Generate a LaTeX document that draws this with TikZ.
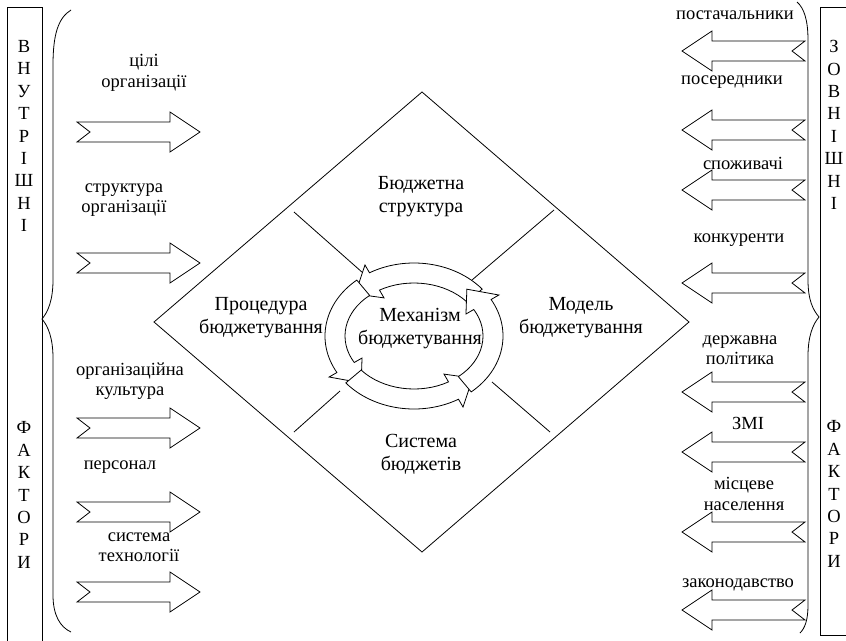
\documentclass[tikz,border=0pt]{standalone}
\usepackage{fontspec}
\setmainfont{Liberation Serif}
\begin{document}
\begin{tikzpicture}[x=1pt,y=-1pt,line width=0.8pt,
  lbl/.style={font=\fontsize{18.5}{20.5}\selectfont,align=center,inner sep=0pt},
  dlbl/.style={font=\fontsize{20}{23}\selectfont,align=center,inner sep=0pt},
  vlbl/.style={font=\fontsize{18.5}{22.4}\selectfont,align=center,inner sep=0pt},
  blk/.style={draw,fill=white,line join=miter}]
\useasboundingbox (0,0) rectangle (846,640);
% side boxes
\draw (7,643) -- (7,7) -- (42,7) -- (42,643);
\draw (849,7) -- (820,7) -- (820,635) -- (849,635);
\node[vlbl] (vin) at (24,136) {В\\Н\\У\\Т\\Р\\І\\Ш\\Н\\І};
\node[vlbl] (fin) at (24,495) {Ф\\А\\К\\Т\\О\\Р\\И};
\node[vlbl] (vout) at (834,125) {З\\О\\В\\Н\\І\\Ш\\Н\\І};
\node[vlbl] (fout) at (834,494) {Ф\\А\\К\\Т\\О\\Р\\И};
% braces
\draw (71,10) .. controls (58,18) and (53,35) .. (53,65) -- (53,280)
  .. controls (53,300) and (48,312) .. (42,319)
  .. controls (48,326) and (53,338) .. (53,358) -- (53,595)
  .. controls (53,615) and (60,627) .. (71,632);
\draw (797,2) .. controls (804,8) and (808,20) .. (808,40) -- (808,280)
  .. controls (808,300) and (813,310) .. (819,317)
  .. controls (813,324) and (808,336) .. (808,356) -- (808,605)
  .. controls (808,620) and (805,628) .. (800,633);
% diamond
\coordinate (dt) at (422,92);
\coordinate (dl) at (154,322);
\coordinate (dr) at (689,322);
\coordinate (db) at (422,552);
\draw (dt) -- (dr) -- (db) -- (dl) -- cycle;
\draw (294,212) -- (363,273);
\draw (554,210) -- (472,280);
\draw (294,432) -- (340,391);
\draw (550,432) -- (492,382);
% cycle of arrows
\begin{scope}[shift={(414,336)}]
\foreach \a/\b/\c in {320/240/222, 230/150/132, 140/60/42, 50/-30/-48}{
  \draw[blk] (\a:89 and 73) arc[start angle=\a,end angle=\b,x radius=89,y radius=73]
    -- (\b:98 and 82) -- (\c:79 and 63) -- (\b:60 and 44) -- (\b:69 and 53)
    arc[start angle=\b,end angle=\a,x radius=69,y radius=53] -- cycle;
}
\end{scope}
\node[dlbl] (mech) at (420,329) {Механізм\\бюджетування};
\node[dlbl] (bs) at (421,197) {Бюджетна\\структура};
\node[dlbl] (pb) at (261,318) {Процедура\\бюджетування};
\node[dlbl] (mb) at (581,318) {Модель\\бюджетування};
\node[dlbl] (sb) at (421,454) {Система\\бюджетів};
% left arrows
\foreach \y in {132,263,428,512,592}{
  \draw[blk] (77,\y-10) -- (170,\y-10) -- (170,\y-20) -- (200,\y) -- (170,\y+20)
    -- (170,\y+10) -- (77,\y+10) -- (90,\y) -- cycle;
}
% right arrows
\foreach \y in {51,130,190,283,392,452,532,610}{
  \draw[blk] (805,\y-10) -- (712,\y-10) -- (712,\y-20) -- (682,\y) -- (712,\y+20)
    -- (712,\y+10) -- (805,\y+10) -- (792,\y) -- cycle;
}
% left labels
\node[lbl] (l1) at (144,73) {цілі\\організації};
\node[lbl] (l2) at (124,200) {структура\\організації};
\node[lbl] (l3) at (130,381) {організаційна\\культура};
\node[lbl] (l4) at (120,467) {персонал};
\node[lbl] (l5) at (139,547) {система\\технології};
% right labels
\node[lbl] (r1) at (735,15) {постачальники};
\node[lbl] (r2) at (732,82) {посередники};
\node[lbl] (r3) at (743,163) {споживачі};
\node[lbl] (r4) at (739,240) {конкуренти};
\node[lbl] (r5) at (740,350) {державна\\політика};
\node[lbl] (r6) at (748,423) {ЗМІ};
\node[lbl] (r7) at (744,494) {місцеве\\населення};
\node[lbl] (r8) at (738,585) {законодавство};
\end{tikzpicture}
\end{document}
